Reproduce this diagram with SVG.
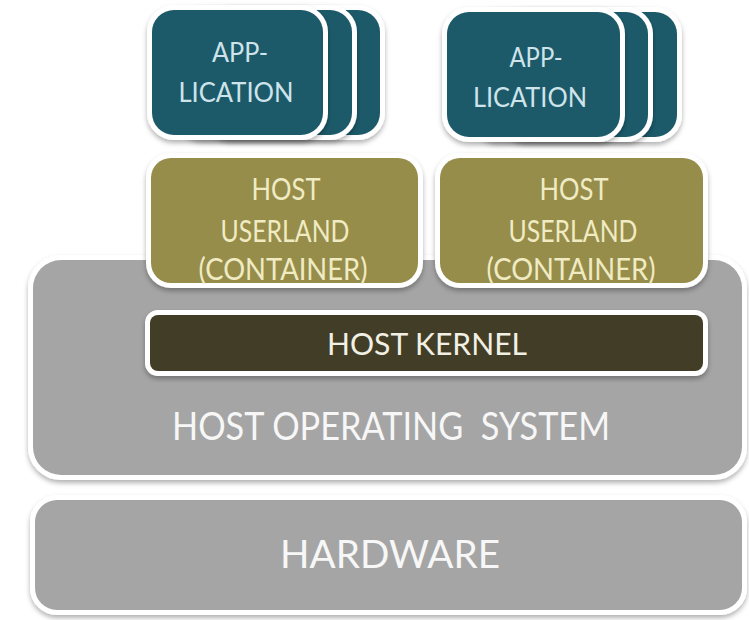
<svg xmlns="http://www.w3.org/2000/svg" width="749" height="620" viewBox="0 0 749 620">
  <defs>
    <filter id="shadow" x="-10%" y="-10%" width="120%" height="130%">
      <feDropShadow dx="0" dy="3" stdDeviation="2.5" flood-color="#000" flood-opacity="0.3"/>
    </filter>
    <style>
      .box { stroke: #ffffff; stroke-width: 10; paint-order: stroke; filter: url(#shadow); }
      .app { fill: #1e5a6a; }
      .user { fill: #968d4c; }
      .kernel { fill: #423c25; }
      .grey { fill: #a5a5a5; }
      text { font-family: "Lato", "Open Sans", "Liberation Sans", sans-serif; text-anchor: middle; }
      .t-app { fill: #cfe4ea; font-size: 26px; }
      .t-user { fill: #f0ebc2; font-size: 30px; }
      .t-kernel { fill: #f2f0e4; font-size: 31px; }
      .t-grey { fill: #f7f7f7; font-size: 38px; }
    </style>
  </defs>

  <rect width="749" height="620" fill="#ffffff"/>

  <!-- bottom layer -->
  <g id="hardware">
    <rect class="box grey" x="35" y="500" width="707" height="110" rx="22"/>
    <text class="t-grey" x="390" y="568" textLength="220" lengthAdjust="spacingAndGlyphs">HARDWARE</text>
  </g>

  <g id="host-os">
    <rect class="box grey" x="33" y="260" width="709" height="215" rx="28"/>
    <text class="t-grey" x="391" y="440" textLength="438" lengthAdjust="spacingAndGlyphs" xml:space="preserve">HOST OPERATING  SYSTEM</text>
  </g>

  <g id="host-kernel">
    <rect class="box kernel" x="150" y="315" width="553" height="56" rx="8"/>
    <text class="t-kernel" x="427" y="355" textLength="200" lengthAdjust="spacingAndGlyphs">HOST KERNEL</text>
  </g>

  <!-- container userlands -->
  <g id="userland-left">
    <rect class="box user" x="151" y="158" width="267" height="125" rx="20"/>
    <text class="t-user" x="286" y="200" textLength="69" lengthAdjust="spacingAndGlyphs">HOST</text>
    <text class="t-user" x="285" y="242" textLength="129" lengthAdjust="spacingAndGlyphs">USERLAND</text>
    <text class="t-user" x="283" y="280" textLength="169" lengthAdjust="spacingAndGlyphs">(CONTAINER)</text>
  </g>

  <g id="userland-right">
    <rect class="box user" x="440" y="158" width="263" height="125" rx="20"/>
    <text class="t-user" x="574" y="200" textLength="69" lengthAdjust="spacingAndGlyphs">HOST</text>
    <text class="t-user" x="573" y="242" textLength="129" lengthAdjust="spacingAndGlyphs">USERLAND</text>
    <text class="t-user" x="571" y="280" textLength="169" lengthAdjust="spacingAndGlyphs">(CONTAINER)</text>
  </g>

  <!-- application stacks -->
  <g id="application-left">
    <rect class="box app" x="210" y="10" width="170" height="125" rx="22"/>
    <rect class="box app" x="181" y="10" width="171" height="125" rx="22"/>
    <rect class="box app" x="152" y="10" width="171" height="125" rx="22"/>
    <text class="t-app" x="240" y="62" textLength="56" lengthAdjust="spacingAndGlyphs">APP-</text>
    <text class="t-app" x="236" y="102" textLength="115" lengthAdjust="spacingAndGlyphs">LICATION</text>
  </g>

  <g id="application-right">
    <rect class="box app" x="505" y="12" width="172" height="125" rx="22"/>
    <rect class="box app" x="476" y="12" width="172" height="125" rx="22"/>
    <rect class="box app" x="447" y="12" width="173" height="125" rx="22"/>
    <text class="t-app" x="536" y="67" textLength="53" lengthAdjust="spacingAndGlyphs">APP-</text>
    <text class="t-app" x="530" y="107" textLength="114" lengthAdjust="spacingAndGlyphs">LICATION</text>
  </g>
</svg>
